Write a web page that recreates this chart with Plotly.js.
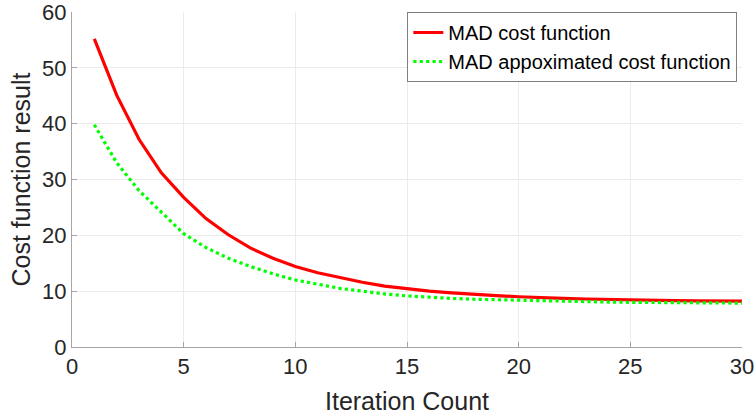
<!DOCTYPE html>
<html>
<head>
<meta charset="utf-8">
<script src="https://cdn.plot.ly/plotly-3.0.1.min.js"></script>
<style>html,body{margin:0;padding:0;background:#fff;}#chart{width:755px;height:417px;}</style>
</head>
<body>
<div id="chart"></div>
<script>
var iterations = [1,2,3,4,5,6,7,8,9,10,11,12,13,14,15,16,17,18,19,20,21,22,23,24,25,26,27,28,29,30];
var madCost = [55.2,45.1,37.2,31.2,26.8,23.0,20.1,17.7,15.9,14.4,13.3,12.4,11.6,10.9,10.4,10.0,9.7,9.4,9.2,9.0,8.8,8.7,8.6,8.5,8.4,8.35,8.3,8.27,8.25,8.23];
var madApprox = [39.8,33.0,28.0,24.2,20.3,17.8,15.9,14.4,13.1,12.0,11.2,10.5,10.0,9.5,9.15,8.9,8.7,8.55,8.45,8.35,8.25,8.2,8.1,8.05,8.0,7.97,7.93,7.9,7.88,7.86];
var seriesNames = ["MAD cost function", "MAD appoximated cost function"];
var xTicks = [0,5,10,15,20,25,30];
var yTicks = [0,10,20,30,40,50,60];

var font = "Liberation Sans, Arial, Helvetica, sans-serif";
var traces = [
  {x: iterations, y: madCost, name: seriesNames[0], mode: "lines",
   line: {color: "#ff0000", width: 3.2}},
  {x: iterations, y: madApprox, name: seriesNames[1], mode: "lines",
   line: {color: "#00ff00", width: 3.2, dash: "dot"}}
];
var axisCommon = {
  showline: true, linecolor: "#a6a6a6", linewidth: 1,
  showgrid: true, gridcolor: "#ebebeb", gridwidth: 1,
  zeroline: false, ticks: "inside", ticklen: 5, tickcolor: "#a6a6a6",
  tickfont: {family: font, size: 22, color: "#262626"},
  ticklabeloverflow: "allow",
  mirror: false
};
var layout = {
  width: 755, height: 417,
  margin: {l: 72, r: 13, t: 12, b: 70},
  paper_bgcolor: "#ffffff", plot_bgcolor: "#ffffff",
  showlegend: true,
  legend: {x: 0.993, xanchor: "right", y: 1.0, yanchor: "top",
    bordercolor: "#7f7f7f", borderwidth: 1, bgcolor: "#ffffff",
    font: {family: font, size: 20, color: "#000000"},
    tracegroupgap: 0},
  xaxis: Object.assign({}, axisCommon, {
    range: [0, 30], tickvals: xTicks, ticktext: xTicks.map(String),
    title: {text: "Iteration Count", font: {family: font, size: 25, color: "#262626"}, standoff: 14}
  }),
  yaxis: Object.assign({}, axisCommon, {
    range: [0, 60], tickvals: yTicks, ticktext: yTicks.map(String),
    title: {text: "Cost function result", font: {family: font, size: 25, color: "#262626"}, standoff: 4}
  })
};
Plotly.newPlot("chart", traces, layout, {displayModeBar: false, staticPlot: true});
</script>
</body>
</html>
